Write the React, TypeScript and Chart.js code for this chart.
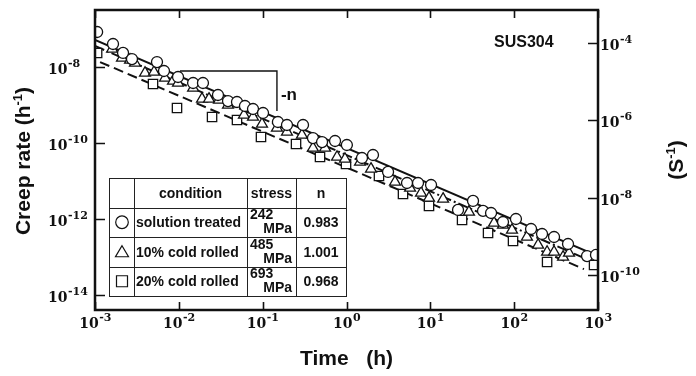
import React, { useEffect, useRef } from "react";
import { Chart, registerables } from "chart.js";

Chart.register(...registerables);

// Solution treated (242 MPa): time [h], creep rate [1/h]
const solutionTime = [
  1.06e-3, 1.64e-3, 2.16e-3, 2.76e-3, 5.49e-3, 6.65e-3, 9.78e-3, 1.48e-2, 1.94e-2, 2.93e-2,
  3.86e-2, 4.94e-2, 6.15e-2, 7.67e-2, 0.101, 0.152, 0.195, 0.303, 0.398, 0.511,
  0.73, 1.01, 1.53, 2.07, 3.13, 5.27, 7.13, 10.2, 21.4, 32.3,
  42.5, 53.0, 73.6, 105, 159, 215, 299, 439, 740, 946,
];
const solutionRate = [
  8.34e-8, 4.03e-8, 2.34e-8, 1.62e-8, 1.35e-8, 7.85e-9, 5.46e-9, 3.79e-9, 3.79e-9, 1.83e-9,
  1.27e-9, 1.2e-9, 9.42e-10, 7.85e-10, 6.15e-10, 3.57e-10, 2.98e-10, 2.98e-10, 1.35e-10, 1.06e-10,
  1.13e-10, 8.86e-11, 4.03e-11, 4.83e-11, 1.73e-11, 8.86e-12, 8.86e-12, 7.85e-12, 1.73e-12, 2.98e-12,
  1.63e-12, 1.44e-12, 8.34e-13, 1.0e-12, 5.46e-13, 4.03e-13, 3.36e-13, 2.2e-13, 1.06e-13, 1.13e-13,
];

// 10% cold rolled (485 MPa)
const cold10Time = [
  1.6e-3, 2.1e-3, 2.62e-3, 3.0e-3, 3.95e-3, 5.06e-3, 6.84e-3, 8.52e-3, 9.78e-3, 1.48e-2,
  1.89e-2, 2.29e-2, 3.01e-2, 3.86e-2, 5.98e-2, 7.67e-2, 9.82e-2, 0.148, 0.195, 0.294,
  0.398, 0.555, 0.771, 0.959, 1.45, 1.96, 3.79, 5.73, 7.74, 9.64,
  14.2, 28.9, 57.5, 73.6, 94.2, 142, 193, 247, 299, 383, 451,
];
const cold10Rate = [
  2.98e-8, 1.73e-8, 1.53e-8, 1.27e-8, 6.95e-9, 7.39e-9, 5.14e-9, 4.28e-9, 3.79e-9, 2.8e-9,
  1.44e-9, 1.44e-9, 1.35e-9, 1.0e-9, 5.46e-10, 4.83e-10, 3.16e-10, 2.48e-10, 1.95e-10, 1.63e-10,
  7.39e-11, 7.39e-11, 4.28e-11, 3.79e-11, 3.16e-11, 2.07e-11, 9.42e-12, 6.54e-12, 4.83e-12, 3.57e-12,
  3.36e-12, 1.53e-12, 7.85e-13, 6.95e-13, 5.14e-13, 3.36e-13, 2.07e-13, 1.35e-13, 1.35e-13, 1.0e-13, 1.27e-13,
];

// 20% cold rolled (693 MPa)
const cold20Time = [
  1.06e-3, 4.92e-3, 9.51e-3, 2.49e-2, 4.94e-2, 9.55e-2, 0.25, 0.483, 0.987, 2.44,
  4.72, 9.64, 23.9, 48.8, 96.9, 247, 897,
];
const cold20Rate = [
  2.34e-8, 3.57e-9, 8.34e-10, 4.83e-10, 4.03e-10, 1.44e-10, 9.42e-11, 4.28e-11, 2.8e-11, 1.35e-11,
  4.55e-12, 2.2e-12, 9.42e-13, 4.28e-13, 2.64e-13, 7.39e-14, 6.15e-14,
];

// Fitted power-law lines (end points)
const solutionFitTime = [1e-3, 1e3];
const solutionFitRate = [5.14e-8, 1.06e-13];
const cold10FitTime = [1e-3, 1e3];
const cold10FitRate = [3.57e-8, 6.54e-14];
const cold20FitTime = [1.15e-3, 680];
const cold20FitRate = [1.35e-8, 4.8e-14];

// Slope guide ("-n")
const slopeTime = [1.03e-2, 0.148, 0.148];
const slopeRate = [7.85e-9, 7.85e-9, 6.95e-10];

// Axis ranges and tick values
const timeMin = 1e-3;
const timeMax = 1e3;
const rateMin = Math.pow(10, -14.395);
const rateMax = Math.pow(10, -6.5);
const rateSecMin = Math.pow(10, -10.905);
const rateSecMax = Math.pow(10, -3.147);
const timeTicks = [1e-3, 1e-2, 1e-1, 1, 10, 100, 1000];
const rateTicks = [1e-14, 1e-12, 1e-10, 1e-8];
const rateSecTicks = [1e-10, 1e-8, 1e-6, 1e-4];

// Legend table rows
const conditions = ["solution treated", "10% cold rolled", "20% cold rolled"];
const stresses = ["242", "485", "693"];
const exponents = ["0.983", "1.001", "0.968"];
const symbols = ["circle", "triangle", "rect"];

const INK = "#111";
const SANS = '"Liberation Sans", Arial, sans-serif';
const SERIF = '"DejaVu Serif", serif';

const pts = (xs: number[], ys: number[]) => xs.map((x, i) => ({ x, y: ys[i] }));

function drawPower(ctx: CanvasRenderingContext2D, exp: number, x: number, baseY: number, centered: boolean) {
  const es = String(exp);
  ctx.font = `bold 14px ${SERIF}`;
  const wb = ctx.measureText("10").width;
  ctx.font = `bold 11px ${SERIF}`;
  const we = ctx.measureText(es).width;
  const x0 = centered ? x - (wb + we) / 2 : x;
  ctx.textAlign = "left";
  ctx.textBaseline = "alphabetic";
  ctx.font = `bold 14px ${SERIF}`;
  ctx.fillText("10", x0, baseY);
  ctx.font = `bold 11px ${SERIF}`;
  ctx.fillText(es, x0 + wb + 0.5, baseY - 7);
}

function drawVerticalTitle(
  ctx: CanvasRenderingContext2D,
  parts: { text: string; sup?: boolean }[],
  cx: number,
  cy: number
) {
  const main = `bold 21px ${SANS}`;
  const small = `bold 13px ${SANS}`;
  let total = 0;
  const widths = parts.map((p) => {
    ctx.font = p.sup ? small : main;
    const w = ctx.measureText(p.text).width;
    total += w;
    return w;
  });
  ctx.save();
  ctx.translate(cx, cy);
  ctx.rotate(-Math.PI / 2);
  ctx.textAlign = "left";
  ctx.textBaseline = "alphabetic";
  let x = -total / 2;
  parts.forEach((p, i) => {
    ctx.font = p.sup ? small : main;
    ctx.fillText(p.text, x, p.sup ? -1 : 7);
    x += widths[i];
  });
  ctx.restore();
}

function drawSymbol(ctx: CanvasRenderingContext2D, kind: string, cx: number, cy: number) {
  ctx.beginPath();
  if (kind === "circle") {
    ctx.arc(cx, cy, 6.3, 0, Math.PI * 2);
  } else if (kind === "triangle") {
    ctx.moveTo(cx, cy - 6);
    ctx.lineTo(cx + 6.5, cy + 5);
    ctx.lineTo(cx - 6.5, cy + 5);
    ctx.closePath();
  } else {
    ctx.rect(cx - 5.5, cy - 5.5, 11, 11);
  }
  ctx.stroke();
}

const framePlugin = {
  id: "frame",
  afterDraw(chart: any) {
    const { ctx, chartArea: a, scales } = chart;
    const xs = scales.x;
    const ys = scales.y;
    const ys2 = scales.y2;
    ctx.save();
    ctx.strokeStyle = INK;
    ctx.fillStyle = INK;

    // inward tick marks on all four sides
    ctx.lineWidth = 1.6;
    ctx.beginPath();
    xs.ticks.forEach((t: any) => {
      const px = Math.round(xs.getPixelForValue(t.value)) + 0.5;
      ctx.moveTo(px, a.bottom);
      ctx.lineTo(px, a.bottom - 8);
      ctx.moveTo(px, a.top);
      ctx.lineTo(px, a.top + 8);
    });
    ys.ticks.forEach((t: any) => {
      const py = Math.round(ys.getPixelForValue(t.value)) + 0.5;
      ctx.moveTo(a.left, py);
      ctx.lineTo(a.left + 10, py);
    });
    ys2.ticks.forEach((t: any) => {
      const py = Math.round(ys2.getPixelForValue(t.value)) + 0.5;
      ctx.moveTo(a.right, py);
      ctx.lineTo(a.right - 10, py);
    });
    ctx.stroke();

    // frame
    ctx.lineWidth = 2.5;
    ctx.strokeRect(a.left, a.top, a.right - a.left, a.bottom - a.top);

    // tick labels as powers of ten
    xs.ticks.forEach((t: any) => {
      const px = xs.getPixelForValue(t.value);
      drawPower(ctx, Math.round(Math.log10(t.value)), px, a.bottom + 18, true);
    });
    ys.ticks.forEach((t: any) => {
      const py = ys.getPixelForValue(t.value);
      drawPower(ctx, Math.round(Math.log10(t.value)), a.left - 47, py + 7, false);
    });
    ys2.ticks.forEach((t: any) => {
      const py = ys2.getPixelForValue(t.value);
      drawPower(ctx, Math.round(Math.log10(t.value)), a.right + 2, py + 7, false);
    });

    // vertical axis titles
    drawVerticalTitle(ctx, [{ text: "Creep rate (h" }, { text: "-1", sup: true }, { text: ")" }], 23, 161);
    drawVerticalTitle(ctx, [{ text: "(S" }, { text: "-1", sup: true }, { text: ")" }], 676, 160);

    // material label
    ctx.textAlign = "left";
    ctx.textBaseline = "alphabetic";
    ctx.font = `bold 16px ${SANS}`;
    ctx.fillText("SUS304", 494, 47);

    // slope label next to the guide
    const gx = xs.getPixelForValue(slopeTime[1]);
    const gy = (ys.getPixelForValue(slopeRate[1]) + ys.getPixelForValue(slopeRate[2])) / 2;
    ctx.font = `bold 17px ${SANS}`;
    ctx.fillText("-n", gx + 4, gy + 9);

    // legend table
    const colX = [109, 134, 247, 296, 346];
    const rowY = [178, 207.5, 237, 266.5, 296];
    ctx.fillStyle = "#fff";
    ctx.fillRect(colX[0], rowY[0], colX[4] - colX[0], rowY[4] - rowY[0]);
    ctx.strokeStyle = "#222";
    ctx.lineWidth = 1;
    ctx.beginPath();
    colX.forEach((cx) => {
      ctx.moveTo(cx + 0.5, rowY[0]);
      ctx.lineTo(cx + 0.5, rowY[4]);
    });
    rowY.forEach((ry) => {
      const r = Math.round(ry) + 0.5;
      ctx.moveTo(colX[0], r);
      ctx.lineTo(colX[4] + 1, r);
    });
    ctx.stroke();

    ctx.fillStyle = INK;
    ctx.font = `bold 14px ${SANS}`;
    ctx.textAlign = "center";
    const hb = (rowY[0] + rowY[1]) / 2 + 5;
    ctx.fillText("condition", (colX[1] + colX[2]) / 2, hb);
    ctx.fillText("stress", (colX[2] + colX[3]) / 2, hb);
    ctx.fillText("n", (colX[3] + colX[4]) / 2, hb);

    ctx.strokeStyle = INK;
    ctx.lineWidth = 1.2;
    for (let i = 0; i < conditions.length; i++) {
      const c = (rowY[i + 1] + rowY[i + 2]) / 2;
      drawSymbol(ctx, symbols[i], (colX[0] + colX[1]) / 2 + 0.5, c);
      ctx.font = `bold 14px ${SANS}`;
      ctx.textAlign = "left";
      ctx.fillText(conditions[i], colX[1] + 2, c + 5);
      ctx.fillText(stresses[i], colX[2] + 3, c - 3);
      ctx.textAlign = "right";
      ctx.fillText("MPa", colX[3] - 4, c + 11);
      ctx.textAlign = "center";
      ctx.fillText(exponents[i], (colX[3] + colX[4]) / 2, c + 5);
    }
    ctx.restore();
  },
};

export default function App() {
  const canvasRef = useRef<HTMLCanvasElement | null>(null);

  useEffect(() => {
    if (!canvasRef.current) return;
    const marker = {
      showLine: false,
      pointBorderColor: INK,
      pointBackgroundColor: "#fff",
      pointBorderWidth: 1.3,
    };
    const fit = {
      showLine: true,
      pointRadius: 0,
      borderColor: INK,
      borderWidth: 2,
    };
    const chart = new Chart(canvasRef.current, {
      type: "scatter",
      data: {
        datasets: [
          { ...marker, label: "solution treated", data: pts(solutionTime, solutionRate), pointStyle: "circle", pointRadius: 5.5 },
          { ...marker, label: "10% cold rolled", data: pts(cold10Time, cold10Rate), pointStyle: "triangle", pointRadius: 6.3 },
          { ...marker, label: "20% cold rolled", data: pts(cold20Time, cold20Rate), pointStyle: "rect", pointRadius: 6.6 },
          { ...fit, label: "fit solution", data: pts(solutionFitTime, solutionFitRate) },
          { ...fit, label: "fit 10%", data: pts(cold10FitTime, cold10FitRate), borderDash: [10, 3, 2, 3] },
          { ...fit, label: "fit 20%", data: pts(cold20FitTime, cold20FitRate), borderDash: [10, 5] },
          { ...fit, label: "slope", data: pts(slopeTime, slopeRate), borderWidth: 1.4 },
        ] as any,
      },
      options: {
        animation: false,
        responsive: false,
        devicePixelRatio: 1,
        layout: { padding: { top: 10, left: 0, right: 0, bottom: 0 } },
        plugins: { legend: { display: false }, tooltip: { enabled: false } },
        scales: {
          x: {
            type: "logarithmic",
            position: "bottom",
            min: timeMin,
            max: timeMax,
            grid: { display: false },
            border: { display: false },
            ticks: { display: false },
            afterBuildTicks: (s: any) => {
              s.ticks = timeTicks.map((v) => ({ value: v }));
            },
            afterFit: (s: any) => {
              s.height = 66;
            },
            title: {
              display: true,
              text: "Time   (h)",
              color: INK,
              font: { family: SANS, size: 21, weight: "bold" },
              padding: { top: 0, bottom: 4 },
            },
          },
          y: {
            type: "logarithmic",
            position: "left",
            min: rateMin,
            max: rateMax,
            grid: { display: false },
            border: { display: false },
            ticks: { display: false },
            afterBuildTicks: (s: any) => {
              s.ticks = rateTicks.map((v) => ({ value: v }));
            },
            afterFit: (s: any) => {
              s.width = 95;
            },
          },
          y2: {
            type: "logarithmic",
            position: "right",
            min: rateSecMin,
            max: rateSecMax,
            grid: { display: false },
            border: { display: false },
            ticks: { display: false },
            afterBuildTicks: (s: any) => {
              s.ticks = rateSecTicks.map((v) => ({ value: v }));
            },
            afterFit: (s: any) => {
              s.width = 98;
            },
          },
        },
      } as any,
      plugins: [framePlugin],
    });
    return () => chart.destroy();
  }, []);

  return (
    <div style={{ position: "fixed", left: 0, top: 0, width: 696, height: 376, background: "#fff" }}>
      <canvas ref={canvasRef} width={696} height={376} />
    </div>
  );
}
